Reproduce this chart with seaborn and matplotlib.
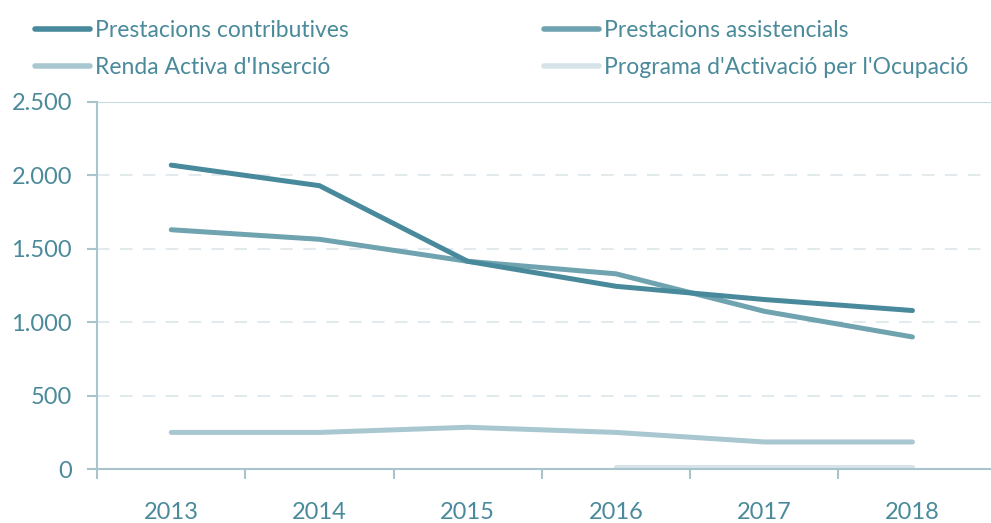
import pandas as pd
import matplotlib.pyplot as plt
import seaborn as sns

anys = [2013, 2014, 2015, 2016, 2017, 2018]
contributives = [2070, 1930, 1415, 1245, 1155, 1080]
assistencials = [1630, 1565, 1415, 1330, 1075, 900]
renda_activa = [250, 250, 285, 250, 185, 185]
pao_anys = [2016, 2017, 2018]
pao = [15, 15, 15]

series = ["Prestacions contributives", "Prestacions assistencials",
          "Renda Activa d'Inserció", "Programa d'Activació per l'Ocupació"]
colors = ["#488a9b", "#70a3b0", "#a9c7d0", "#d6e3e8"]
text_color = "#4a8a9a"

rows = []
for nom, vals, xs in [(series[0], contributives, anys), (series[1], assistencials, anys),
                      (series[2], renda_activa, anys), (series[3], pao, pao_anys)]:
    for a, v in zip(xs, vals):
        rows.append({"any": anys.index(a), "valor": v, "serie": nom})
df = pd.DataFrame(rows)

sns.set_style("white")
plt.rcParams['font.family'] = ['Lato', 'DejaVu Sans']

fig = plt.figure(figsize=(9.91, 5.23), dpi=100)
ax = fig.add_axes([0.098, 0.103, 0.905, 0.702])

sns.lineplot(data=df, x="any", y="valor", hue="serie", hue_order=series,
             palette=colors, linewidth=3.6, ax=ax, legend=False,
             solid_capstyle="round")
# primera serie a sobre
for ln, z in zip(ax.lines, [4, 3, 2, 1]):
    ln.set_zorder(z)

ax.set_xlim(-0.5, 5.55)
ax.set_ylim(0, 2500)
ax.set_xticks(range(len(anys)))
ax.set_xticklabels([str(a) for a in anys])
ax.set_xticks([i - 0.5 for i in range(len(anys))], minor=True)
ax.set_yticks([0, 500, 1000, 1500, 2000, 2500])
ax.set_yticklabels(["0", "500", "1.000", "1.500", "2.000", "2.500"])
ax.set_xlabel("")
ax.set_ylabel("")

for y in [500, 1000, 1500, 2000]:
    ax.axhline(y, color="#e3eaed", linewidth=1.5, dashes=(6, 5), zorder=0)
ax.axhline(2500, color="#c9dadf", linewidth=1.5, zorder=0)

for s in ["top", "right"]:
    ax.spines[s].set_visible(False)
for s in ["left", "bottom"]:
    ax.spines[s].set_color("#a9c4cc")
    ax.spines[s].set_linewidth(1.5)

ax.tick_params(axis="x", which="major", length=0, pad=24, labelsize=17, labelcolor=text_color)
ax.tick_params(axis="x", which="minor", length=7, width=1.5, color="#a9c4cc", direction="out")
ax.tick_params(axis="y", length=7, width=1.5, color="#a9c4cc", labelsize=17,
               labelcolor=text_color, pad=11)
ax.tick_params(left=True, bottom=True, which="both")

# ordre per files: la llegenda omple per columnes
ordre = [0, 2, 1, 3]
handles = [plt.Line2D([], [], color=colors[i], linewidth=4, solid_capstyle="round") for i in ordre]
fig.legend(handles, [series[i] for i in ordre], ncol=2, loc="upper left",
           bbox_to_anchor=(0.0145, 1.002), frameon=False, fontsize=16.5,
           labelcolor=text_color, handlelength=2.4, handletextpad=0.22,
           columnspacing=8.5, labelspacing=0.72)

fig.savefig("out.png", dpi=100)
